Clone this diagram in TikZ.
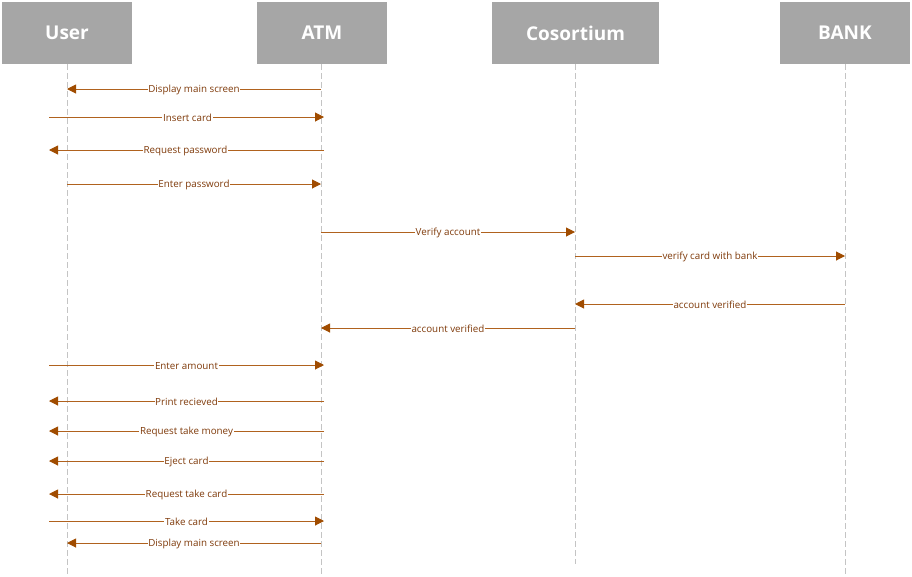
\documentclass[tikz,border=0pt]{standalone}
\usepackage{fontspec}
\setmainfont{Open Sans}
\usetikzlibrary{arrows.meta}
\definecolor{hdr}{HTML}{A6A6A6}
\definecolor{msg}{HTML}{B0621E}
\definecolor{tip}{HTML}{A04C00}
\definecolor{lbl}{HTML}{7F3A0A}
\definecolor{life}{HTML}{C4C4C4}
\begin{document}
\begin{tikzpicture}[x=1pt,y=-1pt,
  header/.style={fill=hdr,draw=none,minimum height=62pt,inner sep=0pt,text=white,font=\bfseries\fontsize{19}{22}\selectfont},
  lifeline/.style={draw=life,line width=0.8pt,dash pattern=on 6pt off 3pt},
  msgline/.style={draw=msg,line width=1pt,-{Triangle[length=9pt,width=9pt,color=tip]}},
  msglabel/.style={fill=white,inner sep=0.6pt,yshift=-0.8pt,text=lbl,font=\fontsize{9.8}{11}\selectfont}]
\useasboundingbox (0,0) rectangle (912,576);
% headers
\node[header,minimum width=130pt] (user) at (67,33) {User};
\node[header,minimum width=130pt] (atm) at (322,33) {ATM};
\node[header,minimum width=167pt] (cons) at (575.5,33) {Cosortium};
\node[header,minimum width=130pt] (bank) at (845,33) {BANK};
% lifeline ends
\coordinate (userE) at (67,576);
\coordinate (atmE) at (321,576);
\coordinate (consE) at (575,564);
\coordinate (bankE) at (845,576);
\draw[lifeline] (67,64) -- (userE);
\draw[lifeline] (321,64) -- (atmE);
\draw[lifeline] (575,64) -- (consE);
\draw[lifeline] (845,64) -- (bankE);
% message endpoints
\foreach \n/\y in {1/89,2/117,3/150,4/184,5/232,6/256,7/304,8/328,9/365,10/401,11/431,12/461,13/494,14/521,15/543}{
  \coordinate (u\n) at (67,\y);
  \coordinate (uo\n) at (49,\y);
  \coordinate (a\n) at (321,\y);
  \coordinate (ao\n) at (324,\y);
  \coordinate (c\n) at (575,\y);
  \coordinate (b\n) at (845,\y);
}
\draw[msgline] (a1) -- node[msglabel]{Display main screen} (u1);
\draw[msgline] (uo2) -- node[msglabel,xshift=1pt]{Insert card} (ao2);
\draw[msgline] (ao3) -- node[msglabel,xshift=-1pt]{Request password} (uo3);
\draw[msgline] (u4) -- node[msglabel]{Enter password} (a4);
\draw[msgline] (a5) -- node[msglabel]{Verify account} (c5);
\draw[msgline] (c6) -- node[msglabel]{verify card with bank} (b6);
\draw[msgline] (b7) -- node[msglabel]{account verified} (c7);
\draw[msgline] (c8) -- node[msglabel]{account verified} (a8);
\draw[msgline] (uo9) -- node[msglabel]{Enter amount} (ao9);
\draw[msgline] (ao10) -- node[msglabel]{Print recieved} (uo10);
\draw[msgline] (ao11) -- node[msglabel]{Request take money} (uo11);
\draw[msgline] (ao12) -- node[msglabel]{Eject card} (uo12);
\draw[msgline] (ao13) -- node[msglabel]{Request take card} (uo13);
\draw[msgline] (uo14) -- node[msglabel]{Take card} (ao14);
\draw[msgline] (a15) -- node[msglabel]{Display main screen} (u15);
\end{tikzpicture}
\end{document}
